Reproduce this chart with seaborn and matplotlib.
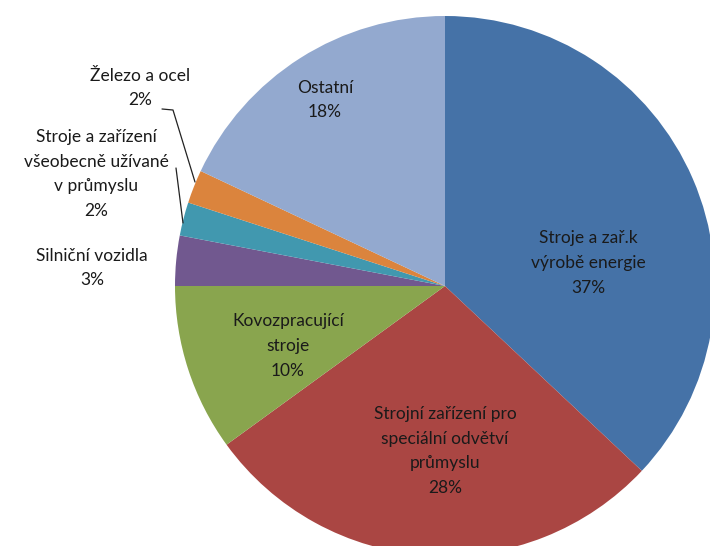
import matplotlib
matplotlib.use("Agg")
import matplotlib.pyplot as plt
import seaborn as sns

# data
labels = ["Stroje a zař.k\nvýrobě energie", "Strojní zařízení pro\nspeciální odvětví\nprůmyslu",
          "Kovozpracující\nstroje", "Silniční vozidla", "Stroje a zařízení\nvšeobecně užívané\nv průmyslu",
          "Železo a ocel", "Ostatní"]
shares = [37, 28, 10, 3, 2, 2, 18]
colors = ["#4572A7", "#AA4643", "#89A54E", "#71588F", "#4198AF", "#DB843D", "#93A9CF"]

# label anchor positions in pixels (x, y from top)
label_pos = [(588, 263), (445, 451), (288, 346), (92, 268), (96, 174), (140, 88), (325, 100)]

sns.set_theme(style="white")
plt.rcParams["font.family"] = ["Lato", "DejaVu Sans"]

W, H = 710, 546
fig = plt.figure(figsize=(W / 100, H / 100), dpi=100)
ax = fig.add_axes([0, 0, 1, 1])

cx, cy, r = 445, 286, 270
ax.pie(shares, colors=colors, startangle=90, counterclock=False,
       center=(cx, H - cy), radius=r, frame=True,
       wedgeprops=dict(linewidth=0))
ax.set_xlim(0, W)
ax.set_ylim(0, H)
ax.set_aspect("equal")
ax.axis("off")

for lab, val, (px, py) in zip(labels, shares, label_pos):
    ax.text(px, H - py, f"{lab}\n{val}%", ha="center", va="center",
            fontsize=12.5, color="#1a1a1a", linespacing=1.68)

# leader lines for small slices
ax.plot([162, 173, 195], [H - 109, H - 110, H - 182], color="#222222", lw=0.9)
ax.plot([176, 183], [H - 168, H - 223], color="#222222", lw=0.9)

fig.savefig("out.png", dpi=100)
